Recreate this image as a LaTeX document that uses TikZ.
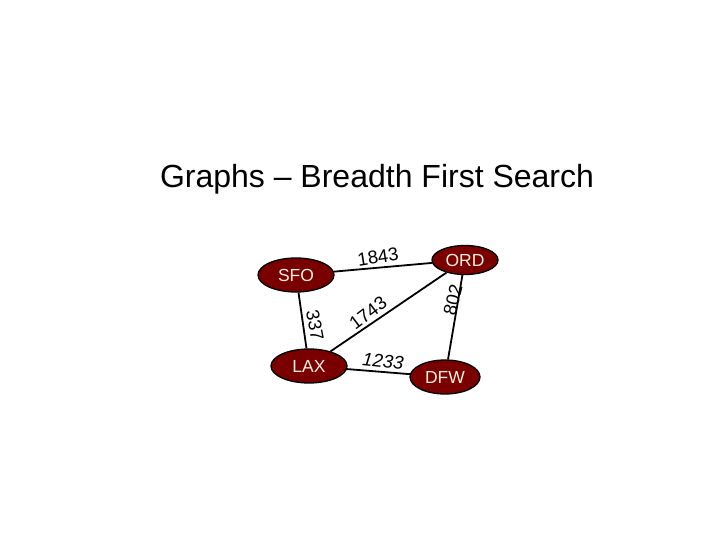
\documentclass[tikz,border=0pt]{standalone}
\usepackage{fontspec}
\setmainfont{Liberation Sans}
\usetikzlibrary{shapes.geometric}
\definecolor{maroon}{RGB}{122,0,0}
\definecolor{cream}{RGB}{255,240,225}
\begin{document}
\begin{tikzpicture}[x=1pt,y=-1pt,
  city/.style={ellipse,draw=black,line width=1.3pt,fill=maroon,text=cream,
    minimum width=#1,minimum height=34pt,inner sep=0pt,font=\fontsize{17.5}{17.5}\selectfont},
  city/.default=74pt,
  road/.style={line width=1.8pt,black},
  wt/.style={font=\fontsize{18.5}{18.5}\selectfont,inner sep=0pt}]
\useasboundingbox (0,0) rectangle (720,540);
\node[font=\fontsize{32}{32}\selectfont] (title) at (377,179) {Graphs – Breadth First Search};
\node[city=76pt] (sfo) at (296,275) {SFO};
\node[city=66pt,minimum height=29pt] (ord) at (465,260) {ORD};
\node[city=76pt] (lax) at (309,366) {LAX};
\node[city=70pt] (dfw) at (445,377) {DFW};
\draw[road] (sfo) -- (ord);
\draw[road] (sfo) -- (lax);
\draw[road] (lax) -- (ord);
\draw[road] (ord) -- (dfw);
\draw[road] (lax) -- (dfw);
\node[wt,rotate=9] (w1843) at (378,257) {1843};
\node[wt,rotate=-79] (w337) at (315,325) {337};
\node[wt,rotate=37] (w1743) at (368,313) {1743};
\node[wt,rotate=76] (w802) at (453,300) {802};
\node[wt,rotate=-6,font=\fontsize{18.5}{18.5}\selectfont\itshape] (w1233) at (383,361) {1233};
\end{tikzpicture}
\end{document}
